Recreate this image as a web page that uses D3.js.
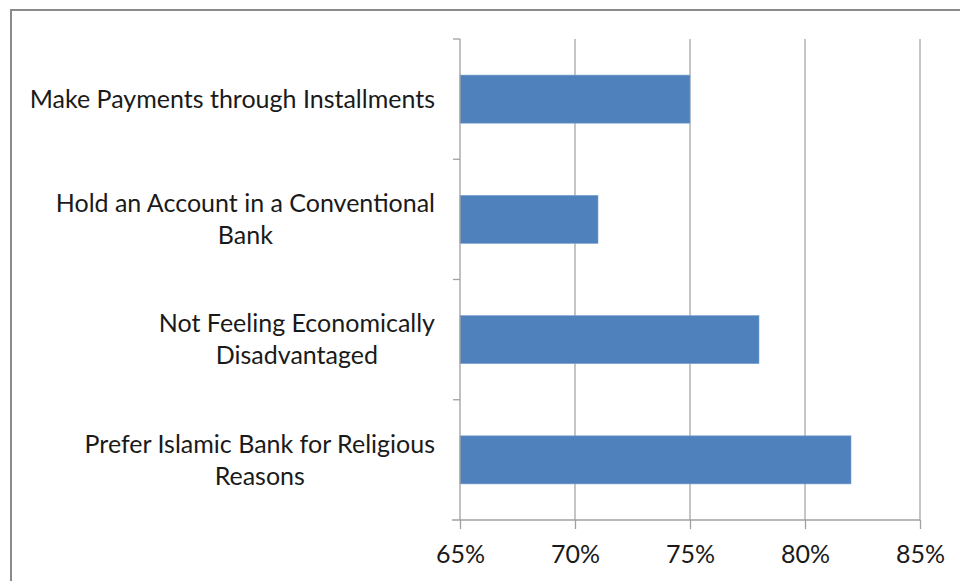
<!DOCTYPE html>
<html>
<head>
<meta charset="utf-8">
<script src="https://cdn.jsdelivr.net/npm/d3@7"></script>
<style>
  html, body { margin: 0; padding: 0; background: #fff; }
  svg { display: block; }
  text { font-family: Lato, "Open Sans", sans-serif; fill: #1a1a1a; }
</style>
</head>
<body>
<svg id="chart" width="960" height="581"></svg>
<script>
const categories = [
  "Make Payments through Installments",
  "Hold an Account in a Conventional Bank",
  "Not Feeling Economically Disadvantaged",
  "Prefer Islamic Bank for Religious Reasons"
];
const values = [75, 71, 78, 82];
const xTicks = [65, 70, 75, 80, 85];

const svg = d3.select("#chart");
const FS = 25;
const margin = { left: 460, top: 39 };
const plotRight = 920, plotBottom = 520;

// outer frame
svg.append("rect")
  .attr("x", 11).attr("y", 10)
  .attr("width", 1200).attr("height", 1200)
  .attr("fill", "none").attr("stroke", "#8a8a8a").attr("stroke-width", 2);

const x = d3.scaleLinear().domain([65, 85]).range([margin.left, plotRight]);
const yb = d3.scaleBand().domain(categories).range([margin.top, plotBottom]);

// gridlines
svg.append("g").selectAll("line").data(xTicks.slice(1)).join("line")
  .attr("x1", d => x(d)).attr("x2", d => x(d))
  .attr("y1", margin.top).attr("y2", plotBottom)
  .attr("stroke", "#a6a6a6").attr("stroke-width", 1.3);

// bars
svg.append("g").selectAll("rect").data(categories).join("rect")
  .attr("x", x(65))
  .attr("y", d => yb(d) + (yb.bandwidth() - yb.bandwidth() / 2.5) / 2)
  .attr("height", yb.bandwidth() / 2.5)
  .attr("width", (d, i) => x(values[i]) - x(65))
  .attr("fill", "#4f81bd")
  .attr("stroke", "#7ea3d1").attr("stroke-width", 0.6);

// x axis
const xAxis = svg.append("g").attr("transform", `translate(0,${plotBottom})`)
  .call(d3.axisBottom(x).tickValues(xTicks).tickFormat(d => d + "%").tickSize(9).tickPadding(16).tickSizeOuter(0));
xAxis.select(".domain").attr("stroke", "#a0a0a0").attr("stroke-width", 1.3)
  .attr("d", `M${x(65) - 8},0H${x(85)}`);
xAxis.selectAll(".tick line").attr("stroke", "#a0a0a0").attr("stroke-width", 1.3);
xAxis.selectAll(".tick text").attr("font-size", FS).attr("fill", "#1a1a1a")
  .attr("font-family", "Lato, 'Open Sans', sans-serif");

// y axis line and ticks at category boundaries
const yLine = svg.append("g");
yLine.append("line").attr("x1", x(65)).attr("x2", x(65))
  .attr("y1", margin.top).attr("y2", plotBottom)
  .attr("stroke", "#a0a0a0").attr("stroke-width", 1.3);
const bounds = categories.map(c => yb(c));
yLine.selectAll(".yt").data(bounds).join("line").attr("class", "yt")
  .attr("x1", x(65) - 7).attr("x2", x(65))
  .attr("y1", d => d).attr("y2", d => d)
  .attr("stroke", "#a0a0a0").attr("stroke-width", 1.3);

// category labels (wrapped, centered block, right edge at 435)
const labelRight = 435, maxW = 415, lineH = 32;
const lg = svg.append("g");
categories.forEach(cat => {
  const words = cat.split(" ");
  const probe = lg.append("text").attr("font-size", FS);
  const lines = [];
  let cur = [];
  words.forEach(w => {
    const test = cur.concat([w]).join(" ");
    probe.text(test);
    if (probe.node().getComputedTextLength() > maxW && cur.length) {
      lines.push(cur.join(" "));
      cur = [w];
    } else cur.push(w);
  });
  lines.push(cur.join(" "));
  const widths = lines.map(l => { probe.text(l); return probe.node().getComputedTextLength(); });
  probe.remove();
  const blockW = d3.max(widths);
  const cx = labelRight - blockW / 2;
  const cy = yb(cat) + yb.bandwidth() / 2;
  const t = lg.append("text").attr("font-size", FS).attr("text-anchor", "middle");
  lines.forEach((l, i) => {
    t.append("tspan").attr("x", cx)
      .attr("y", cy + (i - (lines.length - 1) / 2) * lineH)
      .attr("dy", "0.35em").text(l);
  });
});
</script>
</body>
</html>
